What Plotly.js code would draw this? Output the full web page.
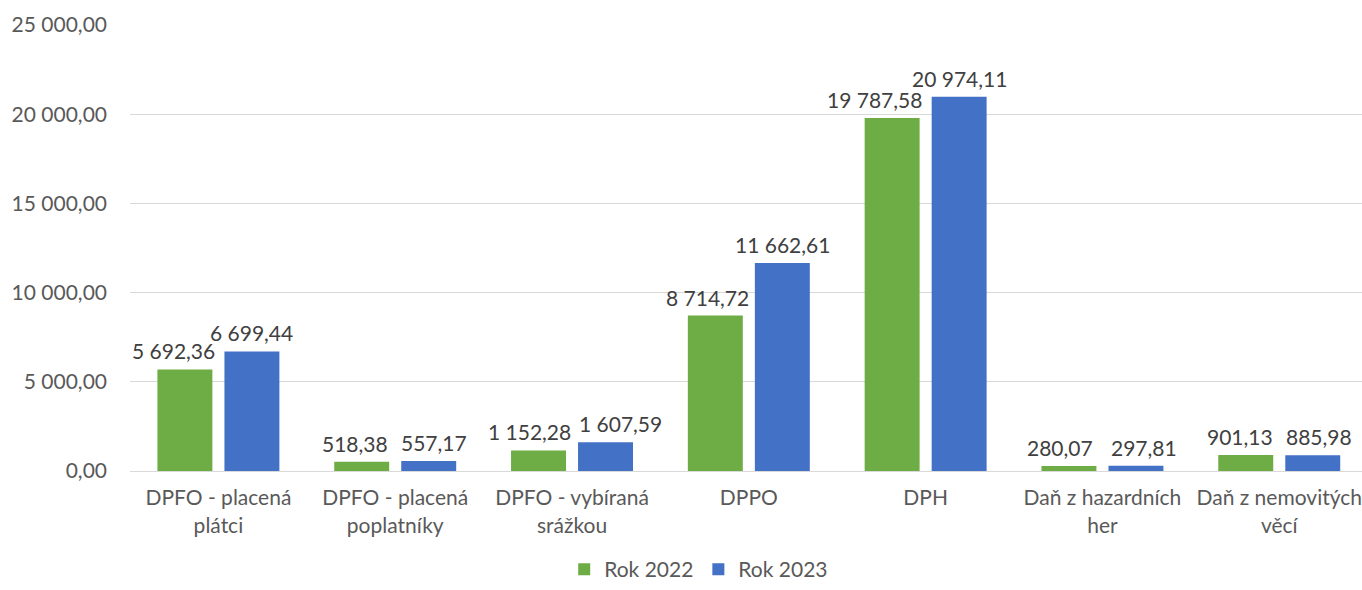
<!DOCTYPE html>
<html>
<head>
<meta charset="utf-8">
<script src="https://cdn.plot.ly/plotly-3.0.1.min.js"></script>
<style>html,body{margin:0;padding:0;background:#fff;}#chart{width:1362px;height:590px;}</style>
</head>
<body>
<div id="chart"></div>
<script>
var categories = ["DPFO - placená<br>plátci", "DPFO - placená<br>poplatníky", "DPFO - vybíraná<br>srážkou", "DPPO", "DPH", "Daň z hazardních<br>her", "Daň z nemovitých<br>věcí"];
var rok2022 = [5692.36, 518.38, 1152.28, 8714.72, 19787.58, 280.07, 901.13];
var rok2023 = [6699.44, 557.17, 1607.59, 11662.61, 20974.11, 297.81, 885.98];
var yTicks = [0, 5000, 10000, 15000, 20000, 25000];

// label nudges (px) to mimic the hand-placed data labels of the original
var nudge2022 = [-11, -7, -9, -8, -18, -9, -6];
var nudge2023 = [0, 5, 15, 0, 0, 8, 6];

var font = "Lato, 'Open Sans', sans-serif";
var bargap = 0.242, bargroupgap = 0.18;

function fmt(v) {
  var p = v.toFixed(2).split(".");
  return p[0].replace(/\B(?=(\d{3})+(?!\d))/g, " ") + "," + p[1];
}

var traces = [
  {type: "bar", name: "Rok 2022", x: categories, y: rok2022, marker: {color: "#6eac45"}, hoverinfo: "none"},
  {type: "bar", name: "Rok 2023", x: categories, y: rok2023, marker: {color: "#4371c5"}, hoverinfo: "none"}
];

var slot = (1 - bargap) / 2;
var annotations = [];
[[rok2022, nudge2022, -slot / 2], [rok2023, nudge2023, slot / 2]].forEach(function (s) {
  s[0].forEach(function (v, i) {
    annotations.push({x: i + s[2], y: v, xref: "x", yref: "y", text: fmt(v), showarrow: false,
      xanchor: "center", yanchor: "bottom", xshift: s[1][i], yshift: 4,
      font: {family: font, size: 21, color: "#404040"}});
  });
});

var layout = {
  width: 1362, height: 590,
  margin: {l: 130, r: 0, t: 25, b: 119},
  separators: ", ",
  font: {family: font, color: "#595959", size: 21},
  barmode: "group", bargap: bargap, bargroupgap: bargroupgap,
  plot_bgcolor: "#fff", paper_bgcolor: "#fff",
  annotations: annotations,
  xaxis: {range: [-0.5, 6.468], tickfont: {size: 21, color: "#595959"}, showline: true, linecolor: "#d9d9d9", linewidth: 1,
          ticks: "", ticklabelstandoff: 8, fixedrange: true},
  yaxis: {range: [0, 25000], tickvals: yTicks, tickformat: ",.2f", showgrid: true, gridcolor: "#d9d9d9", gridwidth: 1,
          zeroline: false, showline: false, tickfont: {size: 21, color: "#595959"}, ticklabelstandoff: 22, fixedrange: true},
  showlegend: true,
  legend: {orientation: "h", xref: "container", yref: "container", x: 0.513, xanchor: "center", y: 0, yanchor: "bottom",
           font: {size: 21, color: "#595959"}, itemwidth: 30, traceorder: "normal", tracegroupgap: 0}
};
Plotly.newPlot("chart", traces, layout, {displayModeBar: false, staticPlot: true});
</script>
</body>
</html>
